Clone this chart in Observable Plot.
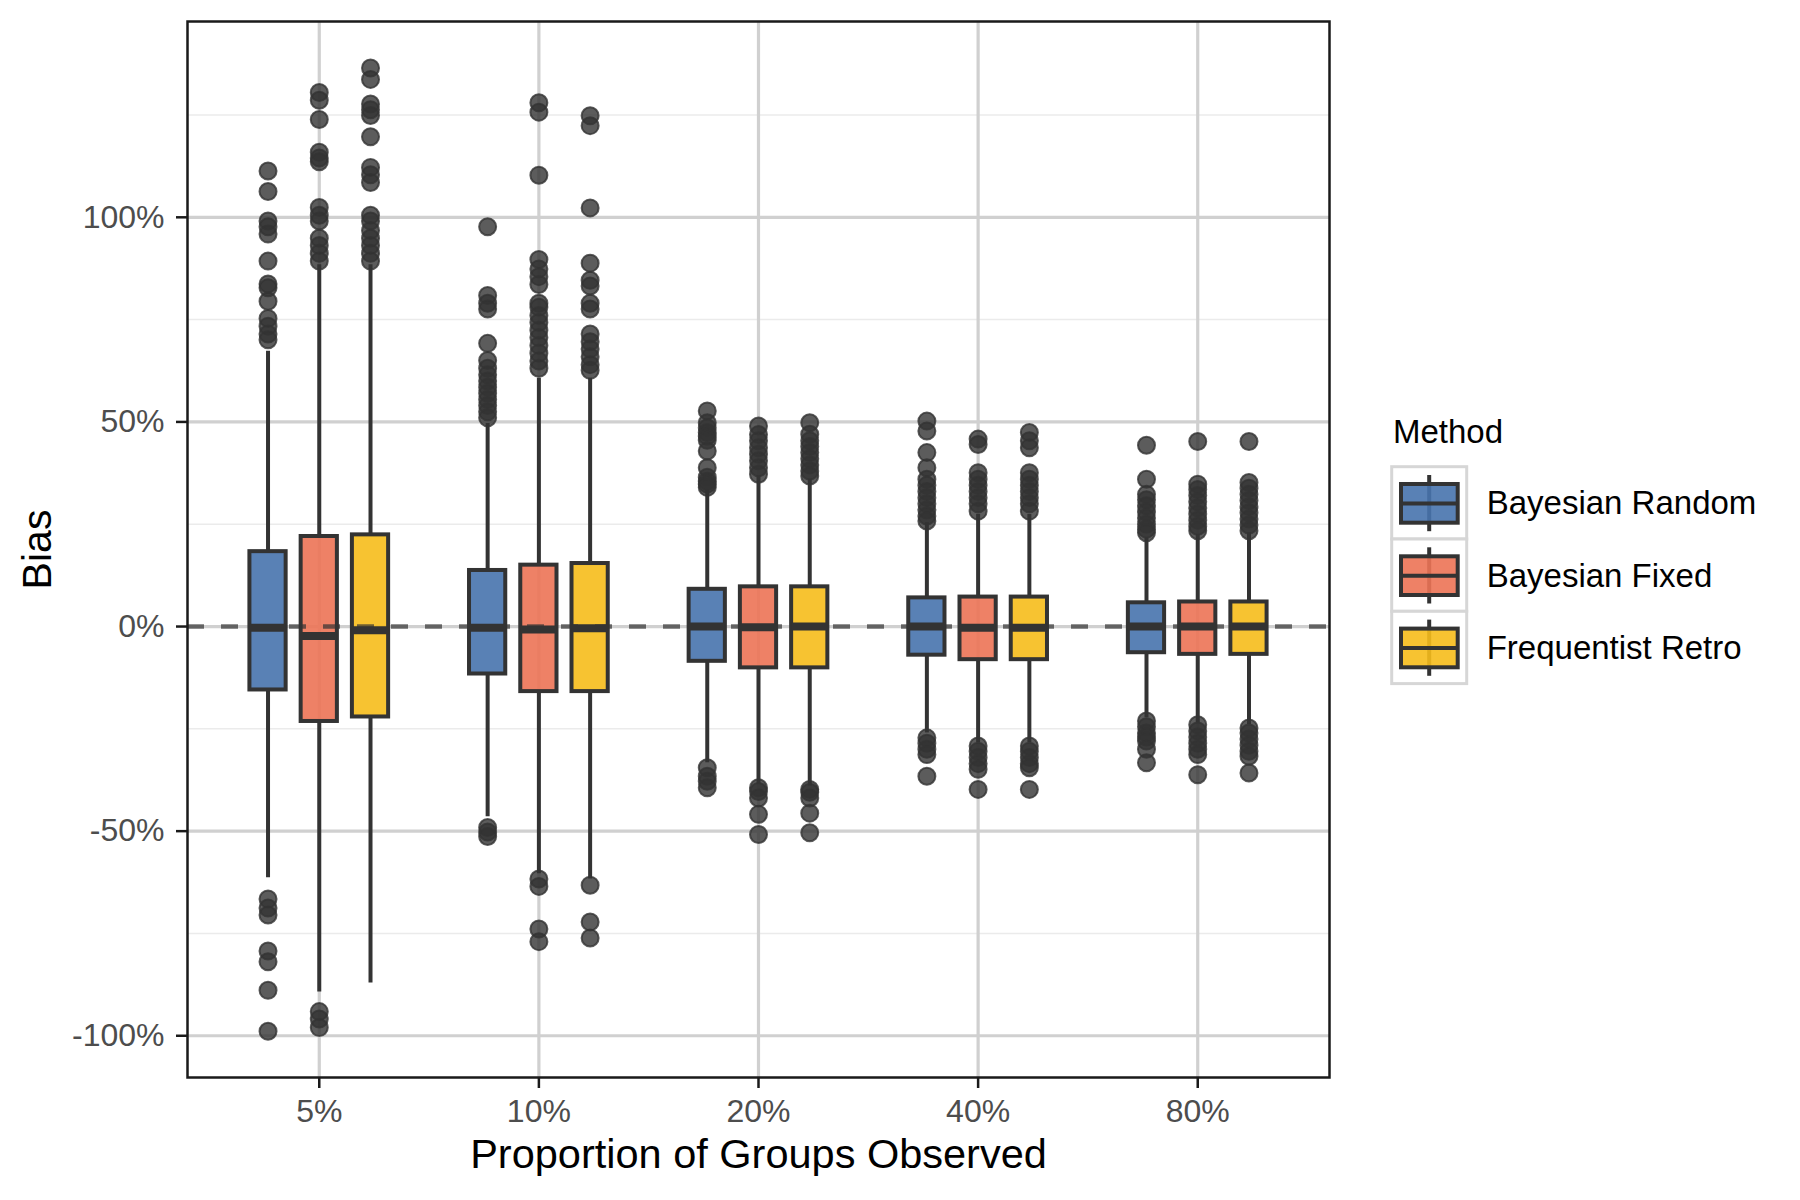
<!DOCTYPE html>
<html>
<head>
<meta charset="utf-8">
<script src="https://cdn.jsdelivr.net/npm/d3@7"></script>
<script src="https://cdn.jsdelivr.net/npm/@observablehq/plot@0.6"></script>
<style>
  body { margin: 0; background: #fff; font-family: "Liberation Sans", Arial, sans-serif; }
  #wrap { position: relative; width: 1800px; height: 1200px; }
  #legend { position: absolute; left: 1380px; top: 400px; }
  g[aria-label$="tick label"] text { fill: #4d4d4d; }
</style>
</head>
<body>
<div id="wrap"></div>
<script>
const categories = ["5%", "10%", "20%", "40%", "80%"];
const methods = ["Bayesian Random", "Bayesian Fixed", "Frequentist Retro"];
const methodColors = ["#4773AD", "#EC7355", "#F6BD1B"];
const yTicks = [-100, -50, 0, 50, 100];
const yMinor = [-75, -25, 25, 75, 125];

// Bayesian Random
const randomLow = [-61.4, -46.5, -33.3, -26.0, -22.3];
const randomQ1 = [-15.5, -11.6, -8.5, -7.0, -6.4];
const randomMedian = [-0.3, -0.3, 0, 0, 0];
const randomQ3 = [18.3, 13.7, 9.1, 7.0, 5.8];
const randomHigh = [67.3, 49.6, 33.5, 25.4, 21.7];
const randomOutliers = [
  [111.3, 106.3, 99.1, 97.7, 95.9, 89.3, 83.7, 82.8, 79.5, 75.3, 73.4, 71.5, 70.1, -66.6, -68.8, -70.5, -79.3, -81.9, -88.9, -98.9],
  [97.7, 80.9, 79.0, 77.6, 69.2, 65.0, 63.1, 61.5, 60.0, 58.5, 57.0, 55.5, 54.0, 52.5, 51.0, -49.1, -50.2, -51.3],
  [52.7, 49.8, 48.6, 47.4, 46.5, 45.5, 42.9, 38.8, 36.5, 35.5, 34.8, 34.0, -34.5, -36.6, -37.8, -39.4],
  [50.2, 47.8, 42.5, 38.8, 36.0, 34.5, 33.0, 31.5, 30.0, 28.5, 27.0, 25.8, -27.2, -28.5, -30.0, -31.3, -36.6],
  [44.3, 36.0, 32.3, 31.0, 29.5, 28.0, 26.5, 25.0, 23.8, 22.9, -23.1, -24.5, -26.0, -27.0, -28.0, -30.0, -33.3]
];

// Bayesian Fixed
const fixedLow = [-89.3, -60.4, -38.6, -28.4, -23.6];
const fixedQ1 = [-23.2, -15.9, -10.1, -8.1, -6.8];
const fixedMedian = [-2.3, -0.7, -0.2, -0.3, 0];
const fixedQ3 = [22.0, 15.0, 9.7, 7.2, 6.0];
const fixedHigh = [88.4, 60.7, 36.8, 27.4, 22.5];
const fixedOutliers = [
  [130.5, 128.6, 123.9, 115.9, 114.5, 113.6, 102.4, 100.5, 99.1, 94.9, 93.1, 91.2, 89.3, -94.1, -95.9, -98.0],
  [128.0, 125.7, 110.3, 89.7, 87.4, 85.5, 83.6, 79.0, 78.0, 76.0, 74.3, 72.4, 70.6, 68.7, 66.8, 64.9, 63.1, -61.7, -63.5, -73.9, -77.0],
  [49.0, 46.9, 45.4, 43.7, 42.1, 40.5, 38.8, 37.2, -39.4, -40.3, -41.9, -45.9, -50.8],
  [45.8, 44.5, 37.6, 36.0, 34.5, 33.0, 31.5, 30.0, 28.2, -29.2, -30.5, -32.0, -33.5, -34.9, -39.8],
  [45.2, 34.8, 33.5, 32.0, 30.5, 29.0, 27.5, 26.0, 24.5, 23.4, -24.0, -25.5, -27.0, -28.5, -30.0, -31.3, -36.2]
];

// Frequentist Retro
const retroLow = [-87.1, -61.7, -39.0, -28.4, -24.0];
const retroQ1 = [-22.1, -15.9, -10.1, -8.1, -6.8];
const retroMedian = [-0.9, -0.4, 0, -0.3, 0];
const retroQ3 = [22.4, 15.4, 9.7, 7.2, 6.0];
const retroHigh = [88.4, 60.7, 36.0, 27.4, 22.9];
const retroOutliers = [
  [136.5, 133.7, 127.7, 126.3, 124.9, 119.7, 112.2, 110.4, 108.5, 100.5, 99.1, 96.8, 94.9, 93.1, 91.2, 89.3],
  [124.8, 122.4, 102.3, 88.8, 84.6, 83.2, 79.0, 77.6, 71.5, 69.6, 67.8, 65.9, 64.0, 62.6, -63.2, -72.2, -76.1],
  [49.8, 47.0, 45.4, 44.0, 42.5, 41.0, 39.5, 38.0, 36.8, -39.8, -40.5, -41.9, -45.6, -50.4],
  [47.4, 45.4, 43.7, 37.6, 36.0, 34.5, 33.0, 31.5, 30.0, 28.2, -29.2, -30.5, -32.0, -33.5, -34.5, -39.8],
  [45.2, 35.2, 33.8, 32.3, 30.8, 29.3, 27.8, 26.3, 24.8, 23.4, -24.8, -26.0, -27.5, -29.0, -30.5, -31.7, -35.8]
];

// ---- build tables ----
const dodge = 0.7 / 3;
const boxW = 0.165;
const series = [
  {low: randomLow, q1: randomQ1, med: randomMedian, q3: randomQ3, high: randomHigh, out: randomOutliers},
  {low: fixedLow, q1: fixedQ1, med: fixedMedian, q3: fixedQ3, high: fixedHigh, out: fixedOutliers},
  {low: retroLow, q1: retroQ1, med: retroMedian, q3: retroQ3, high: retroHigh, out: retroOutliers}
];
const boxes = [];
const points = [];
series.forEach((s, j) => {
  categories.forEach((c, i) => {
    const x = i + (j - 1) * dodge;
    boxes.push({category: c, method: methods[j], x, low: s.low[i], q1: s.q1[i], med: s.med[i], q3: s.q3[i], high: s.high[i]});
    s.out[i].forEach(v => points.push({category: c, method: methods[j], x, value: v}));
  });
});

const font = "Liberation Sans, Arial, Helvetica, sans-serif";
const chart = Plot.plot({
  width: 1800,
  height: 1200,
  marginTop: 21,
  marginRight: 471,
  marginBottom: 123,
  marginLeft: 187,
  style: {fontFamily: font, background: "white", overflow: "visible"},
  x: {type: "linear", domain: [-0.6, categories.length - 0.4]},
  y: {domain: [-110.2, 147.85]},
  color: {domain: methods, range: methodColors},
  marks: [
    Plot.ruleY(yMinor, {stroke: "#ebebeb", strokeWidth: 1.5}),
    Plot.ruleY(yTicks, {stroke: "#d0d0d0", strokeWidth: 3.2}),
    Plot.ruleX(d3.range(categories.length), {stroke: "#d0d0d0", strokeWidth: 3.2}),
    Plot.ruleX(boxes, {x: "x", y1: "low", y2: "q1", stroke: "#333333", strokeWidth: 4}),
    Plot.ruleX(boxes, {x: "x", y1: "q3", y2: "high", stroke: "#333333", strokeWidth: 4}),
    Plot.rect(boxes, {
      x1: d => d.x - boxW / 2, x2: d => d.x + boxW / 2,
      y1: "q1", y2: "q3",
      fill: "method", fillOpacity: 0.9,
      stroke: "#333333", strokeWidth: 4
    }),
    Plot.ruleY(boxes, {y: "med", x1: d => d.x - boxW / 2, x2: d => d.x + boxW / 2, stroke: "#333333", strokeWidth: 8}),
    Plot.dot(points, {x: "x", y: "value", r: 8.5, fill: "#333333", fillOpacity: 0.8, stroke: "#333333", strokeOpacity: 0.8, strokeWidth: 2}),
    Plot.ruleY([0], {stroke: "#333333", strokeOpacity: 0.7, strokeWidth: 4.5, strokeDasharray: "17,17"}),
    Plot.frame({stroke: "#1a1a1a", strokeWidth: 2.5}),
    Plot.axisY(yTicks, {tickSize: 11, tickPadding: 12, fontSize: 32, tickFormat: d => d + "%", color: "#1a1a1a", strokeWidth: 2.5, label: null}),
    Plot.axisX(d3.range(categories.length), {tickSize: 11, tickPadding: 11, fontSize: 32, tickFormat: i => categories[i], color: "#1a1a1a", strokeWidth: 2.5, label: null}),
    Plot.text(["Proportion of Groups Observed"], {frameAnchor: "bottom", dy: 77, fontSize: 41.5, fill: "black", textAnchor: "middle", lineAnchor: "middle"}),
    Plot.text(["Bias"], {frameAnchor: "left", dx: -150, rotate: -90, fontSize: 41, fill: "black", textAnchor: "middle", lineAnchor: "middle"})
  ]
});

const wrap = document.getElementById("wrap");
wrap.appendChild(chart);

// ---- legend ----
const lg = d3.create("svg")
  .attr("id", "legend")
  .attr("width", 420)
  .attr("height", 300)
  .style("font-family", font);
lg.append("text").attr("x", 13).attr("y", 43).attr("font-size", 33).attr("fill", "black").text("Method");
methods.forEach((m, i) => {
  const keyH = 72.3;
  const g = lg.append("g").attr("transform", `translate(0,${66.7 + i * keyH})`);
  g.append("rect").attr("x", 11.7).attr("y", 0).attr("width", 75).attr("height", keyH)
    .attr("fill", "white").attr("stroke", "#d6d6d6").attr("stroke-width", 3);
  g.append("line").attr("x1", 49.2).attr("x2", 49.2).attr("y1", 8.3).attr("y2", 64.5)
    .attr("stroke", "#333333").attr("stroke-width", 4);
  g.append("rect").attr("x", 21).attr("y", 17.3).attr("width", 56.7).attr("height", 38.7)
    .attr("fill", methodColors[i]).attr("fill-opacity", 0.9)
    .attr("stroke", "#333333").attr("stroke-width", 4);
  g.append("line").attr("x1", 21).attr("x2", 77.7).attr("y1", 36.7).attr("y2", 36.7)
    .attr("stroke", "#333333").attr("stroke-width", 4);
  g.append("text").attr("x", 106.7).attr("y", 36.2 + 11.5).attr("font-size", 33).attr("fill", "black").text(m);
});
wrap.appendChild(lg.node());
</script>
</body>
</html>
